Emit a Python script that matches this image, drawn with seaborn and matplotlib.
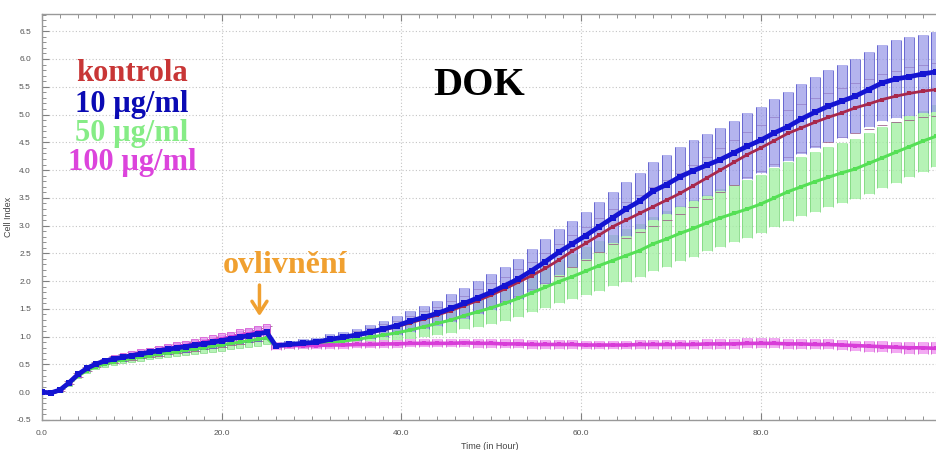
import numpy as np
import pandas as pd
import seaborn as sns
import matplotlib.pyplot as plt
from matplotlib.ticker import MultipleLocator

# measurement times (h): hourly before treatment, every 1.5 h after
time = [0, 1, 2, 3, 4, 5, 6, 7, 8, 9, 10, 11, 12, 13, 14, 15, 16, 17, 18, 19, 20, 21, 22, 23, 24, 25,
        26, 27.5, 29, 30.5, 32, 33.5, 35, 36.5, 38, 39.5, 41, 42.5, 44, 45.5, 47, 48.5, 50, 51.5, 53, 54.5,
        56, 57.5, 59, 60.5, 62, 63.5, 65, 66.5, 68, 69.5, 71, 72.5, 74, 75.5, 77, 78.5, 80, 81.5, 83, 84.5,
        86, 87.5, 89, 90.5, 92, 93.5, 95, 96.5, 98, 99.5]

labels = ['kontrola', '10 µg/ml', '50 µg/ml', '100 µg/ml']

kontrola = [0.00, -0.01, 0.04, 0.17, 0.31, 0.42, 0.50, 0.55, 0.59, 0.62, 0.65, 0.68, 0.71, 0.74, 0.76, 0.79,
            0.81, 0.84, 0.86, 0.89, 0.92, 0.95, 0.98, 1.01, 1.04, 1.07,
            0.84, 0.85, 0.87, 0.89, 0.94, 0.98, 1.02, 1.07, 1.12, 1.18, 1.25, 1.32, 1.39, 1.47, 1.56, 1.65,
            1.75, 1.86, 1.98, 2.10, 2.23, 2.38, 2.54, 2.68, 2.83, 2.98, 3.10, 3.22, 3.34, 3.46, 3.58, 3.72,
            3.86, 4.00, 4.14, 4.28, 4.40, 4.53, 4.66, 4.76, 4.86, 4.95, 5.03, 5.12, 5.19, 5.27, 5.33, 5.38,
            5.42, 5.45]
kontrola_sd = [0.01, 0.01, 0.02, 0.03, 0.04, 0.04, 0.05, 0.05, 0.06, 0.06, 0.07, 0.07, 0.07, 0.08, 0.08, 0.08,
               0.09, 0.09, 0.09, 0.10, 0.10, 0.10, 0.11, 0.11, 0.12, 0.12,
               0.04, 0.05, 0.05, 0.06, 0.07, 0.07, 0.08, 0.09, 0.10, 0.11, 0.13, 0.14, 0.15, 0.17, 0.18, 0.20,
               0.21, 0.22, 0.24, 0.25, 0.27, 0.28, 0.29, 0.30, 0.31, 0.32, 0.33, 0.34, 0.35, 0.36, 0.37, 0.38,
               0.38, 0.39, 0.40, 0.40, 0.41, 0.42, 0.42, 0.43, 0.43, 0.44, 0.44, 0.45, 0.45, 0.46, 0.46, 0.47,
               0.47, 0.48]

c10 = [0.00, -0.01, 0.04, 0.17, 0.32, 0.43, 0.51, 0.56, 0.60, 0.63, 0.66, 0.69, 0.72, 0.75, 0.77, 0.80,
       0.82, 0.85, 0.87, 0.90, 0.93, 0.96, 0.99, 1.02, 1.05, 1.08,
       0.84, 0.86, 0.88, 0.90, 0.95, 0.99, 1.03, 1.08, 1.14, 1.20, 1.28, 1.35, 1.42, 1.51, 1.60, 1.70,
       1.80, 1.92, 2.04, 2.19, 2.35, 2.52, 2.67, 2.82, 2.98, 3.14, 3.30, 3.44, 3.62, 3.74, 3.88, 3.99,
       4.09, 4.19, 4.31, 4.43, 4.54, 4.67, 4.78, 4.92, 5.04, 5.15, 5.24, 5.33, 5.45, 5.57, 5.64, 5.68,
       5.73, 5.77]
c10_sd = [0.01, 0.01, 0.02, 0.03, 0.04, 0.04, 0.05, 0.05, 0.06, 0.06, 0.07, 0.07, 0.07, 0.08, 0.08, 0.08,
          0.09, 0.09, 0.09, 0.10, 0.10, 0.10, 0.11, 0.11, 0.12, 0.12,
          0.05, 0.06, 0.07, 0.08, 0.09, 0.10, 0.11, 0.13, 0.15, 0.17, 0.19, 0.21, 0.23, 0.25, 0.28, 0.30,
          0.32, 0.34, 0.36, 0.38, 0.40, 0.41, 0.42, 0.43, 0.45, 0.46, 0.48, 0.50, 0.52, 0.53, 0.54, 0.55,
          0.56, 0.57, 0.58, 0.59, 0.60, 0.61, 0.62, 0.63, 0.64, 0.65, 0.66, 0.67, 0.68, 0.69, 0.70, 0.71,
          0.71, 0.72]

c50 = [0.00, -0.01, 0.03, 0.15, 0.29, 0.39, 0.46, 0.51, 0.55, 0.58, 0.61, 0.63, 0.66, 0.69, 0.71, 0.73,
       0.76, 0.78, 0.80, 0.83, 0.85, 0.88, 0.90, 0.93, 0.95, 0.98,
       0.83, 0.85, 0.86, 0.87, 0.89, 0.92, 0.95, 0.99, 1.03, 1.07, 1.12, 1.18, 1.24, 1.30, 1.38, 1.45,
       1.52, 1.60, 1.69, 1.79, 1.89, 1.99, 2.08, 2.18, 2.28, 2.37, 2.46, 2.55, 2.67, 2.76, 2.86, 2.95,
       3.05, 3.14, 3.22, 3.30, 3.39, 3.50, 3.61, 3.70, 3.79, 3.87, 3.95, 4.02, 4.12, 4.22, 4.32, 4.42,
       4.52, 4.61]
c50_sd = [0.01, 0.01, 0.02, 0.03, 0.04, 0.04, 0.05, 0.05, 0.06, 0.06, 0.07, 0.07, 0.07, 0.08, 0.08, 0.08,
          0.09, 0.09, 0.09, 0.10, 0.10, 0.10, 0.11, 0.11, 0.12, 0.12,
          0.06, 0.07, 0.08, 0.08, 0.09, 0.10, 0.11, 0.12, 0.13, 0.15, 0.17, 0.19, 0.21, 0.23, 0.25, 0.27,
          0.29, 0.31, 0.33, 0.35, 0.37, 0.39, 0.41, 0.43, 0.45, 0.46, 0.47, 0.48, 0.49, 0.50, 0.50, 0.51,
          0.51, 0.52, 0.52, 0.52, 0.53, 0.53, 0.53, 0.53, 0.54, 0.54, 0.54, 0.54, 0.55, 0.55, 0.55, 0.55,
          0.55, 0.56]

c100 = [0.00, -0.01, 0.04, 0.17, 0.32, 0.43, 0.51, 0.57, 0.61, 0.64, 0.67, 0.70, 0.73, 0.76, 0.79, 0.82,
        0.84, 0.87, 0.90, 0.93, 0.96, 0.99, 1.02, 1.05, 1.08, 1.10,
        0.83, 0.84, 0.84, 0.84, 0.85, 0.85, 0.86, 0.86, 0.87, 0.87, 0.88, 0.88, 0.88, 0.88, 0.89, 0.88,
        0.88, 0.87, 0.87, 0.86, 0.86, 0.86, 0.86, 0.85, 0.85, 0.85, 0.85, 0.86, 0.86, 0.86, 0.86, 0.86,
        0.87, 0.87, 0.87, 0.88, 0.88, 0.88, 0.87, 0.87, 0.86, 0.86, 0.85, 0.84, 0.83, 0.82, 0.81, 0.80,
        0.80, 0.79]
c100_sd = [0.01, 0.01, 0.02, 0.03, 0.04, 0.04, 0.05, 0.05, 0.06, 0.06, 0.07, 0.07, 0.07, 0.08, 0.08, 0.08,
           0.09, 0.09, 0.09, 0.10, 0.10, 0.10, 0.11, 0.11, 0.12, 0.12,
           0.07, 0.07, 0.07, 0.07, 0.07, 0.07, 0.07, 0.07, 0.07, 0.07, 0.07, 0.07, 0.07, 0.07, 0.07, 0.08,
           0.08, 0.08, 0.08, 0.08, 0.08, 0.08, 0.08, 0.08, 0.08, 0.08, 0.08, 0.08, 0.08, 0.08, 0.08, 0.08,
           0.09, 0.09, 0.09, 0.09, 0.09, 0.09, 0.09, 0.09, 0.09, 0.09, 0.09, 0.09, 0.10, 0.10, 0.10, 0.11,
           0.11, 0.11]

means = [kontrola, c10, c50, c100]
sds = [kontrola_sd, c10_sd, c50_sd, c100_sd]

df = pd.concat([pd.DataFrame({'time': time, 'ci': m, 'sd': s, 'group': g})
                for m, s, g in zip(means, sds, labels)], ignore_index=True)

# per group: line colour, bar fill, bar edge, line width, zorders, marker size, fill alpha
style = {
    'kontrola':  dict(line='#a8284c', fill=None, edge='#9a5a86', lw=2.0, z=3.2, bz=2.2, ms=3, a=0.8),
    '10 µg/ml':  dict(line='#1414d2', fill='#9494e8', edge='#5a5acc', lw=3.4, z=3.3, bz=2.4, ms=4.5, a=0.7),
    '50 µg/ml':  dict(line='#55e055', fill='#a4f0a4', edge='#7ed87e', lw=2.2, z=3.0, bz=2.0, ms=3, a=0.8),
    '100 µg/ml': dict(line='#d83cd8', fill='#f29cf2', edge='#d25cd2', lw=2.6, z=3.1, bz=2.6, ms=3.5, a=0.85),
}
text_colors = ['#c83636', '#0a0ab4', '#86ec86', '#dc44dc']

sns.set_theme(style='white')
plt.rcParams['font.family'] = ['Liberation Sans', 'DejaVu Sans']

fig = plt.figure(figsize=(9.37, 4.5), dpi=100)
ax = fig.add_axes([42 / 937, 1 - 420 / 450, 1 - 42 / 937, (420 - 14) / 450])

for g in labels:
    st = style[g]
    d = df[df['group'] == g]
    t = d['time'].to_numpy()
    lo = (d['ci'] - d['sd']).to_numpy()
    hi = (d['ci'] + d['sd']).to_numpy()
    w = np.where(t < 25.5, 0.75, 1.1)
    if st['fill'] is None:
        # control: only the caps show, as short dashes
        ax.errorbar(t, d['ci'], yerr=d['sd'], fmt='none', ecolor=st['edge'], elinewidth=0,
                    capsize=3.5, capthick=0.7, alpha=st['a'], zorder=st['bz'])
    else:
        ax.bar(t, hi - lo, bottom=lo, width=w, color=st['fill'], alpha=st['a'], linewidth=0,
               zorder=st['bz'])
        ax.vlines(t - w / 2, lo, hi, color=st['edge'], linewidth=0.7, alpha=0.85, zorder=st['bz'])
        ax.vlines(t + w / 2, lo, hi, color=st['edge'], linewidth=0.7, alpha=0.85, zorder=st['bz'])
        # before treatment the bars are small closed boxes
        pre = t < 25.5
        x0 = t[pre] - w[pre] / 2
        x1 = t[pre] + w[pre] / 2
        ax.hlines(np.r_[lo[pre], hi[pre]], np.r_[x0, x0], np.r_[x1, x1],
                  color=st['edge'], linewidth=0.6, alpha=0.85, zorder=st['bz'])
    sns.lineplot(data=d, x='time', y='ci', color=st['line'], linewidth=st['lw'], marker='s',
                 markersize=st['ms'], markeredgewidth=0, ax=ax, zorder=st['z'], legend=False)

ax.set_xlim(0, 99.6)
ax.set_ylim(-0.5, 6.81)
ax.xaxis.set_major_locator(MultipleLocator(20))
ax.xaxis.set_minor_locator(MultipleLocator(2))
ax.yaxis.set_major_locator(MultipleLocator(0.5))
ax.yaxis.set_minor_locator(MultipleLocator(0.1))
ax.xaxis.set_major_formatter(plt.FormatStrFormatter('%.1f'))
ax.yaxis.set_major_formatter(plt.FormatStrFormatter('%.1f'))
ax.grid(True, which='major', color='#c4c4c4', linestyle=(0, (1, 2)), linewidth=0.8)
ax.set_axisbelow(True)
ax.tick_params(which='both', direction='in', top=True, bottom=True, left=True, right=False,
               colors='#808080', labelcolor='#555555', labelsize=6)
ax.tick_params(which='major', length=5, width=0.8)
ax.tick_params(which='minor', length=3, width=0.6)
ax.tick_params(axis='y', pad=8)
ax.tick_params(axis='x', pad=7)
for side in ['left', 'bottom', 'top']:
    ax.spines[side].set_color('#999999')
    ax.spines[side].set_linewidth(1.0)
ax.spines['right'].set_visible(False)

ax.set_xlabel('Time (in Hour)', fontsize=6.5, color='#444444', labelpad=4)
ax.set_ylabel('Cell Index', fontsize=6.5, color='#444444', labelpad=2)

serif = ['Liberation Serif', 'DejaVu Serif']
for lab, col, yy in zip(labels, text_colors, [5.60, 5.05, 4.52, 4.0]):
    ax.text(10.0, yy, lab, color=col, fontsize=22, fontweight='bold', family=serif,
            ha='center', va='baseline', zorder=5)
ax.text(48.6, 5.35, 'DOK', color='black', fontsize=29, fontweight='bold', family=serif,
        ha='center', va='baseline', zorder=5)
ax.text(27.1, 2.14, 'ovlivnění', color='#f0a030', fontsize=23, fontweight='bold', family=serif,
        ha='center', va='baseline', zorder=5)
ax.annotate('', xy=(24.2, 1.32), xytext=(24.2, 1.98),
            arrowprops=dict(arrowstyle='->,head_length=0.7,head_width=0.45', color='#f0a030', lw=2.5),
            zorder=5)

plt.savefig('out.png', dpi=100)
